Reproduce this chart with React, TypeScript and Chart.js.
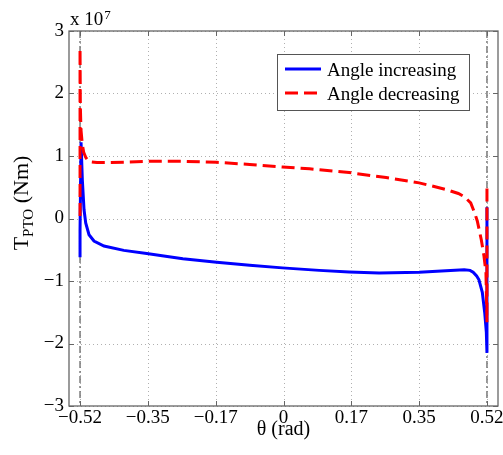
import React, { useEffect, useRef } from "react";
import { Chart, registerables } from "chart.js";

Chart.register(...registerables);

// ---- data (torque values in units of 10^7 Nm) ----
const xTickValues = [-0.5236, -0.3491, -0.1745, 0, 0.1745, 0.3491, 0.5236];
const xTickLabels = ["\u22120.52", "\u22120.35", "\u22120.17", "0", "0.17", "0.35", "0.52"];
const yTickValues = [-3, -2, -1, 0, 1, 2, 3];
const yTickLabels = ["\u22123", "\u22122", "\u22121", "0", "1", "2", "3"];
const xLimits = [-0.552, 0.552];
const yLimits = [-3, 3];
const refLineX = [-0.5236, 0.5236];

const increasingTheta = [
  -0.5236, -0.5236, -0.521, -0.5177, -0.5133, -0.509, -0.5005, -0.4877, -0.462,
  -0.411, -0.352, -0.308, -0.259, -0.172, -0.087, -0.003, 0.092, 0.169, 0.246,
  0.349, 0.418, 0.465, 0.48, 0.488, 0.497, 0.503, 0.5116, 0.5177, 0.522, 0.5236, 0.5236,
];
const increasingTorque = [
  -0.62, -0.2, 1.22, 0.62, 0.14, -0.07, -0.26, -0.36, -0.44,
  -0.51, -0.56, -0.6, -0.645, -0.7, -0.747, -0.79, -0.83, -0.855, -0.87,
  -0.86, -0.835, -0.82, -0.83, -0.86, -0.92, -0.98, -1.18, -1.5, -1.82, -2.15, 0.18,
];

const decreasingTheta = [
  -0.5236, -0.5236, -0.5228, -0.5212, -0.518, -0.5142, -0.509, -0.5035, -0.496,
  -0.48, -0.45, -0.41, -0.344, -0.259, -0.172, -0.087, -0.003, 0.067, 0.169,
  0.264, 0.349, 0.418, 0.45, 0.465, 0.4818, 0.4925, 0.4987, 0.509, 0.5159, 0.521,
  0.5236, 0.5236,
];
const decreasingTorque = [
  0.04, 2.72, 1.8, 1.42, 1.2, 1.06, 0.98, 0.93, 0.905,
  0.895, 0.895, 0.9, 0.915, 0.915, 0.9, 0.865, 0.825, 0.795, 0.735,
  0.655, 0.57, 0.465, 0.4, 0.35, 0.25, 0.08, -0.04, -0.34, -0.6, -0.87,
  -1.66, 0.57,
];

const seriesNames = ["Angle increasing", "Angle decreasing"];
const xTitle = "\u03b8 (rad)";
const yTitleMain = "T";
const yTitleSub = "PTO";
const yTitleUnit = " (Nm)";
const multiplierBase = "x 10";
const multiplierExp = "7";

const FONT = '"Liberation Serif", "Times New Roman", serif';
const BLUE = "#0000ff";
const RED = "#ff0000";
const DASH = [13, 6];

const decorPlugin = {
  id: "decor",
  beforeDatasetsDraw(chart: any) {
    const { ctx, chartArea: a, scales } = chart;
    const x = scales.x;
    const y = scales.y;
    ctx.save();
    ctx.strokeStyle = "#b0b0b0";
    ctx.lineWidth = 1;
    ctx.setLineDash([1, 3]);
    xTickValues.forEach((v) => {
      const px = Math.round(x.getPixelForValue(v)) + 0.5;
      ctx.beginPath();
      ctx.moveTo(px, a.top);
      ctx.lineTo(px, a.bottom);
      ctx.stroke();
    });
    yTickValues.forEach((v) => {
      const py = Math.round(y.getPixelForValue(v)) + 0.5;
      ctx.beginPath();
      ctx.moveTo(a.left, py);
      ctx.lineTo(a.right, py);
      ctx.stroke();
    });
    ctx.strokeStyle = "#7a7a7a";
    ctx.lineWidth = 1.5;
    ctx.setLineDash([7, 3, 2, 3]);
    refLineX.forEach((v) => {
      const px = x.getPixelForValue(v);
      ctx.beginPath();
      ctx.moveTo(px, a.top);
      ctx.lineTo(px, a.bottom);
      ctx.stroke();
    });
    ctx.restore();
  },
  afterDatasetsDraw(chart: any) {
    const { ctx, chartArea: a, scales } = chart;
    const x = scales.x;
    const y = scales.y;
    ctx.save();
    // frame
    ctx.setLineDash([]);
    ctx.strokeStyle = "#666";
    ctx.lineWidth = 1.3;
    ctx.strokeRect(a.left, a.top, a.right - a.left, a.bottom - a.top);
    // inward ticks
    const tl = 5;
    ctx.lineWidth = 1;
    xTickValues.forEach((v) => {
      const px = Math.round(x.getPixelForValue(v)) + 0.5;
      ctx.beginPath();
      ctx.moveTo(px, a.bottom);
      ctx.lineTo(px, a.bottom - tl);
      ctx.moveTo(px, a.top);
      ctx.lineTo(px, a.top + tl);
      ctx.stroke();
    });
    yTickValues.forEach((v) => {
      const py = Math.round(y.getPixelForValue(v)) + 0.5;
      ctx.beginPath();
      ctx.moveTo(a.left, py);
      ctx.lineTo(a.left + tl, py);
      ctx.moveTo(a.right, py);
      ctx.lineTo(a.right - tl, py);
      ctx.stroke();
    });

    // legend
    const lx = 277.5, ly = 54.5, lw = 192, lh = 56;
    ctx.fillStyle = "#fff";
    ctx.fillRect(lx, ly, lw, lh);
    ctx.strokeStyle = "#555";
    ctx.lineWidth = 1;
    ctx.strokeRect(lx, ly, lw, lh);
    ctx.lineWidth = 3;
    ctx.strokeStyle = BLUE;
    ctx.beginPath();
    ctx.moveTo(285, 69);
    ctx.lineTo(321, 69);
    ctx.stroke();
    ctx.strokeStyle = RED;
    ctx.setLineDash(DASH);
    ctx.beginPath();
    ctx.moveTo(285, 93);
    ctx.lineTo(321, 93);
    ctx.stroke();
    ctx.setLineDash([]);
    ctx.fillStyle = "#000";
    ctx.font = `19px ${FONT}`;
    ctx.textAlign = "left";
    ctx.textBaseline = "alphabetic";
    ctx.fillText(seriesNames[0], 327, 76);
    ctx.fillText(seriesNames[1], 327, 100);

    // multiplier
    ctx.font = `19px ${FONT}`;
    ctx.fillText(multiplierBase, 70, 25);
    const wb = ctx.measureText(multiplierBase).width;
    ctx.font = `13px ${FONT}`;
    ctx.fillText(multiplierExp, 70 + wb + 1, 19);

    // x title
    ctx.font = `20px ${FONT}`;
    ctx.textAlign = "center";
    ctx.fillText(xTitle, (a.left + a.right) / 2, 435);

    // y title
    ctx.textAlign = "left";
    ctx.translate(28, 203);
    ctx.rotate(-Math.PI / 2);
    ctx.font = `22px ${FONT}`;
    const wT = ctx.measureText(yTitleMain).width;
    const wU = ctx.measureText(yTitleUnit).width;
    ctx.font = `15px ${FONT}`;
    const wS = ctx.measureText(yTitleSub).width;
    let cx = -(wT + wS + wU) / 2;
    ctx.font = `22px ${FONT}`;
    ctx.fillText(yTitleMain, cx, 0);
    cx += wT;
    ctx.font = `15px ${FONT}`;
    ctx.fillText(yTitleSub, cx, 5);
    cx += wS;
    ctx.font = `22px ${FONT}`;
    ctx.fillText(yTitleUnit, cx, 0);
    ctx.restore();
  },
};

export default function App() {
  const ref = useRef<HTMLCanvasElement | null>(null);
  useEffect(() => {
    if (!ref.current) return;
    const blue = increasingTheta.map((t, i) => ({ x: t, y: increasingTorque[i] }));
    const red = decreasingTheta.map((t, i) => ({ x: t, y: decreasingTorque[i] }));
    const chart = new Chart(ref.current, {
      type: "line",
      data: {
        datasets: [
          {
            label: seriesNames[0],
            data: blue,
            borderColor: BLUE,
            borderWidth: 3,
            pointRadius: 0,
            tension: 0,
            fill: false,
            order: 1,
          },
          {
            label: seriesNames[1],
            data: red,
            borderColor: RED,
            borderWidth: 3,
            borderDash: DASH,
            pointRadius: 0,
            tension: 0,
            fill: false,
            order: 0,
          },
        ],
      },
      options: {
        animation: false,
        responsive: false,
        maintainAspectRatio: false,
        layout: { padding: { left: 0, right: 5, top: 31, bottom: 0 } },
        plugins: { legend: { display: false }, tooltip: { enabled: false } },
        scales: {
          x: {
            type: "linear",
            min: xLimits[0],
            max: xLimits[1],
            grid: { display: false, drawTicks: false },
            border: { display: false },
            ticks: {
              autoSkip: false,
              maxRotation: 0,
              minRotation: 0,
              padding: 1,
              color: "#000",
              font: { family: FONT, size: 19 },
              callback: (_v: any, i: number) => xTickLabels[i],
            },
            afterBuildTicks: (s: any) => {
              s.ticks = xTickValues.map((v) => ({ value: v }));
            },
            afterFit: (s: any) => {
              s.height = 49;
              s.paddingLeft = 0;
              s.paddingRight = 0;
            },
          },
          y: {
            type: "linear",
            min: yLimits[0],
            max: yLimits[1],
            grid: { display: false, drawTicks: false },
            border: { display: false },
            ticks: {
              autoSkip: false,
              padding: 5,
              color: "#000",
              font: { family: FONT, size: 19 },
              callback: (_v: any, i: number) => yTickLabels[i],
            },
            afterBuildTicks: (s: any) => {
              s.ticks = yTickValues.map((v) => ({ value: v }));
            },
            afterFit: (s: any) => {
              s.width = 69;
              s.paddingTop = 0;
              s.paddingBottom = 0;
            },
          },
        },
      },
      plugins: [decorPlugin],
    } as any);
    return () => chart.destroy();
  }, []);
  return (
    <div style={{ position: "fixed", left: 0, top: 0, width: 503, height: 455, background: "#fff" }}>
      <canvas ref={ref} width={503} height={455} style={{ display: "block" }} />
    </div>
  );
}
